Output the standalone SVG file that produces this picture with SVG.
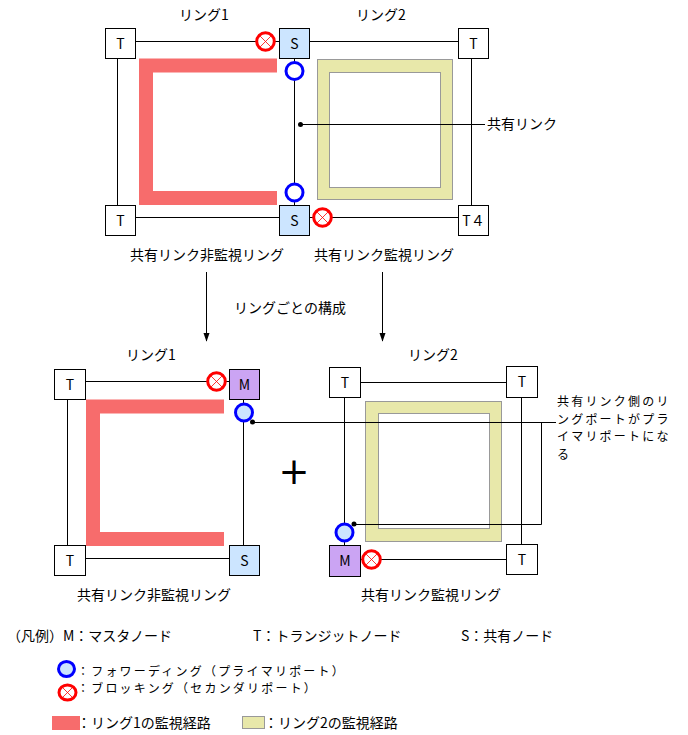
<svg xmlns="http://www.w3.org/2000/svg" width="688" height="735" viewBox="0 0 688 735">
<style>
text{font-family:"Noto Sans CJK JP","Noto Sans",sans-serif;font-size:14px;fill:#000}
.c{text-anchor:middle}
.sm{font-size:12px;letter-spacing:2.2px}
.box{stroke:#000;stroke-width:1}
.t{fill:#fff}
.s{fill:#cce5ff}
.m{fill:#cba4f3}
.ln{stroke:#000;stroke-width:1;fill:none}
.r1{stroke:#f76c6c;stroke-width:14;fill:none}
.yo{fill:#e8e8aa;stroke:#999;stroke-width:1}
.yi{fill:#fff;stroke:#999;stroke-width:1}
.fw{stroke:#0000ff;stroke-width:3;fill:#fff}
.fwb{stroke:#0000ff;stroke-width:3;fill:#cce5ff}
.bk{stroke:#ff0000;stroke-width:3;fill:#fff}
.bx{stroke:#ff0000;stroke-width:0.8;fill:none}
</style>
<defs>
<marker id="ah" markerUnits="userSpaceOnUse" markerWidth="9" markerHeight="13" refX="12" refY="4.5" orient="auto" viewBox="0 0 13 9">
<path d="M0,0 L13,4.5 L0,9 z" fill="#000"/>
</marker>
<g id="xc"><circle r="8.8" class="bk"/><path d="M-5.5,-5.5 L5.5,5.5 M5.5,-5.5 L-5.5,5.5" class="bx"/></g>
</defs>

<!-- monitoring paths -->
<g id="paths">
<polyline class="r1" points="277,65.5 146,65.5 146,198 277,198"/>
<rect class="yo" x="317.5" y="59.5" width="135" height="140"/>
<rect class="yi" x="329.5" y="72.5" width="111" height="115"/>
<polyline class="r1" points="224,406.5 93,406.5 93,539 224,539"/>
<rect class="yo" x="365.5" y="401.5" width="136" height="140"/>
<rect class="yi" x="378.5" y="413.5" width="111" height="115"/>
</g>

<g id="connectors">
<!-- top diagram -->
<line class="ln" x1="135" y1="41.5" x2="279" y2="41.5"/>
<line class="ln" x1="309" y1="41.5" x2="458" y2="41.5"/>
<line class="ln" x1="135" y1="217.5" x2="279" y2="217.5"/>
<line class="ln" x1="309" y1="217.5" x2="458" y2="217.5"/>
<line class="ln" x1="117.5" y1="58" x2="117.5" y2="205"/>
<line class="ln" x1="471.5" y1="58" x2="471.5" y2="205"/>
<line class="ln" x1="294.5" y1="58" x2="294.5" y2="205"/>
<line class="ln" x1="300.5" y1="124.5" x2="485" y2="124.5"/>
<circle cx="300.5" cy="124.5" r="2.5" fill="#000"/>
<!-- arrows -->
<line class="ln" x1="206.5" y1="272" x2="206.5" y2="341" marker-end="url(#ah)"/>
<line class="ln" x1="382.5" y1="272" x2="382.5" y2="341" marker-end="url(#ah)"/>
<!-- bottom left -->
<line class="ln" x1="85" y1="381.5" x2="229" y2="381.5"/>
<line class="ln" x1="85" y1="558.5" x2="229" y2="558.5"/>
<line class="ln" x1="67.5" y1="399" x2="67.5" y2="545"/>
<line class="ln" x1="243.5" y1="399" x2="243.5" y2="545"/>
<!-- bottom right -->
<line class="ln" x1="360" y1="382.5" x2="507" y2="382.5"/>
<line class="ln" x1="360" y1="559.5" x2="507" y2="559.5"/>
<line class="ln" x1="344.5" y1="397" x2="344.5" y2="545"/>
<line class="ln" x1="521.5" y1="397" x2="521.5" y2="544"/>
<!-- callout -->
<polyline class="ln" points="252.5,422.5 556,422.5"/>
<polyline class="ln" points="354,524.5 541.5,524.5 541.5,422.5"/>
<circle cx="252.5" cy="422" r="2.5" fill="#000"/>
<circle cx="354" cy="524" r="2.5" fill="#000"/>
</g>

<!-- top diagram nodes -->
<g id="t1"><rect class="box t" x="105.5" y="28.5" width="30" height="30"/><text class="c" x="120.5" y="48.5">T</text></g>
<g id="s1"><rect class="box s" x="279.5" y="28.5" width="30" height="30"/><text class="c" x="294.5" y="48.5">S</text></g>
<g id="t2"><rect class="box t" x="458.5" y="28.5" width="30" height="30"/><text class="c" x="473.5" y="48.5">T</text></g>
<g id="t3"><rect class="box t" x="105.5" y="205.5" width="30" height="30"/><text class="c" x="120.5" y="225.5">T</text></g>
<g id="s2"><rect class="box s" x="279.5" y="205.5" width="30" height="30"/><text class="c" x="294.5" y="225.5">S</text></g>
<g id="t4"><rect class="box t" x="458.5" y="205.5" width="30" height="30"/><text class="c" x="473.5" y="225.5">T４</text></g>
<g id="ports1">
<use href="#xc" x="265.5" y="41.5"/>
<use href="#xc" x="322.5" y="217.5"/>
<circle cx="294.5" cy="71" r="8.5" class="fw"/>
<circle cx="294.5" cy="192.5" r="8.5" class="fw"/>
</g>

<!-- bottom left nodes -->
<g id="bl-t1"><rect class="box t" x="54.5" y="369.5" width="31" height="30"/><text class="c" x="70" y="389.5">T</text></g>
<g id="bl-m"><rect class="box m" x="229.5" y="369.5" width="30" height="30"/><text class="c" x="244.5" y="389.5">M</text></g>
<g id="bl-t2"><rect class="box t" x="54.5" y="545.5" width="31" height="30"/><text class="c" x="70" y="565.5">T</text></g>
<g id="bl-s"><rect class="box s" x="229.5" y="545.5" width="30" height="30"/><text class="c" x="244.5" y="565.5">S</text></g>
<g id="ports2">
<use href="#xc" x="216.5" y="381.5"/>
<circle cx="244" cy="412.5" r="8.5" class="fwb"/>
</g>

<!-- bottom right nodes -->
<g id="br-t1"><rect class="box t" x="329.5" y="367.5" width="31" height="30"/><text class="c" x="345" y="387.5">T</text></g>
<g id="br-t2"><rect class="box t" x="506.5" y="366.5" width="31" height="31"/><text class="c" x="522" y="387">T</text></g>
<g id="br-m"><rect class="box m" x="329.5" y="545.5" width="31" height="31"/><text class="c" x="345" y="566">M</text></g>
<g id="br-t3"><rect class="box t" x="506.5" y="544.5" width="31" height="30"/><text class="c" x="522" y="564.5">T</text></g>
<g id="ports3">
<use href="#xc" x="371.5" y="559.5"/>
<circle cx="344.5" cy="532.5" r="8.5" class="fwb"/>
</g>

<text x="294" y="484" class="c" style="font-family:'DejaVu Sans',sans-serif;font-size:37px">+</text>

<!-- labels -->
<g id="labels">
<text class="c" x="204" y="20">リング1</text>
<text class="c" x="381" y="20">リング2</text>
<text x="487" y="129">共有リンク</text>
<text class="c" x="207" y="260">共有リンク非監視リング</text>
<text class="c" x="384" y="260">共有リンク監視リング</text>
<text class="c" x="290" y="313">リングごとの構成</text>
<text class="c" x="151" y="360">リング1</text>
<text class="c" x="433" y="360">リング2</text>
<text class="c" x="154" y="600">共有リンク非監視リング</text>
<text class="c" x="431" y="600">共有リンク監視リング</text>
<text class="sm" x="557" y="406">共有リンク側のリ</text>
<text class="sm" x="557" y="423.5">ングポートがプラ</text>
<text class="sm" x="557" y="441">イマリポートにな</text>
<text class="sm" x="557" y="458.5">る</text>
</g>

<!-- legend -->
<g id="legend">
<text x="7" y="641">（凡例）</text>
<text x="63" y="641">M：マスタノード</text>
<text x="253" y="641">T：トランジットノード</text>
<text x="461" y="641">S：共有ノード</text>
<ellipse cx="66.5" cy="669" rx="8" ry="7.5" class="fwb"/>
<text class="sm" x="77" y="675.5">：フォワーディング（プライマリポート）</text>
<ellipse cx="67.5" cy="692.5" rx="8.5" ry="7.5" class="bk"/>
<path d="M62.5,687.5 L72.5,697.5 M72.5,687.5 L62.5,697.5" class="bx"/>
<text class="sm" x="77" y="693">：ブロッキング（セカンダリポート）</text>
<rect x="52" y="716" width="28" height="14" fill="#f76c6c"/>
<text x="77" y="728">：リング1の監視経路</text>
<rect x="242.5" y="716.5" width="22" height="12" class="yo"/>
<text x="264" y="728">：リング2の監視経路</text>
</g>
</svg>
